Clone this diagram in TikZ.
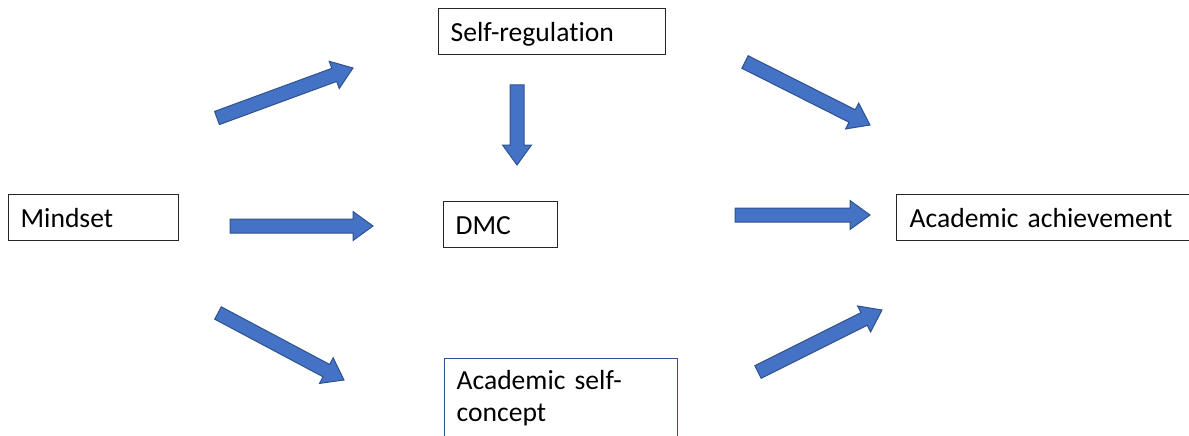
\documentclass[tikz,border=0pt]{standalone}
\usepackage{fontspec}
\setmainfont{Carlito}[Ligatures=NoCommon]
\usetikzlibrary{calc}
\definecolor{arrowfill}{HTML}{4472C4}
\definecolor{arrowline}{HTML}{2F528F}
\definecolor{boxline}{HTML}{262626}

% Block arrow from tail centre #1 to tip #2
\newcommand\blockarrow[2]{%
  \coordinate (neck) at ($(#2)!20pt!(#1)$);
  \draw[barrow]
    ($(#1)!7pt!90:(#2)$) -- ($(neck)!7pt!90:(#2)$) -- ($(neck)!14.5pt!90:(#2)$)
    -- (#2)
    -- ($(neck)!14.5pt!-90:(#2)$) -- ($(neck)!7pt!-90:(#2)$) -- ($(#1)!7pt!-90:(#2)$)
    -- cycle;}

\begin{document}
\begin{tikzpicture}[x=1pt,y=-1pt,
  box/.style={draw=boxline, line width=1.2pt, anchor=north west, align=left,
    inner xsep=12pt, minimum height=46pt, text height=23pt, text depth=3pt,
    font=\fontsize{27.6}{32}\selectfont},
  barrow/.style={fill=arrowfill, draw=arrowline, line width=1pt, line join=miter}]
  \useasboundingbox (0,0) rectangle (1189,436);
  \clip (0,0) rectangle (1189,436);

  % Constructs
  \node[box, text width=146pt] (mind) at (8,194) {Mindset};
  \node[box, text width=203pt] (selfreg) at (438,8) {Self-regulation};
  \node[box, text width=90pt] (dmc) at (443,201) {DMC};
  \node[box, inner xsep=13pt, text width=300pt] (ach) at (896,194) {Academic achievement};
  \node[box, draw=arrowline, text width=209pt, minimum height=0pt, inner ysep=12pt,
    text height=, text depth=]
    (asc) at (444,358) {Academic self-\\concept};

  % Arrow end points
  \coordinate (a1s) at (217,118); \coordinate (a1e) at (353,68);
  \coordinate (a2s) at (517,85);  \coordinate (a2e) at (517,165);
  \coordinate (a3s) at (230,226); \coordinate (a3e) at (373,226);
  \coordinate (a4s) at (218,313); \coordinate (a4e) at (344,380);
  \coordinate (a5s) at (745,62);  \coordinate (a5e) at (870,125);
  \coordinate (a6s) at (735,215); \coordinate (a6e) at (870,215);
  \coordinate (a7s) at (758,372); \coordinate (a7e) at (882,310);

  % Paths
  \blockarrow{a1s}{a1e}
  \blockarrow{a2s}{a2e}
  \blockarrow{a3s}{a3e}
  \blockarrow{a4s}{a4e}
  \blockarrow{a5s}{a5e}
  \blockarrow{a6s}{a6e}
  \blockarrow{a7s}{a7e}
\end{tikzpicture}
\end{document}
